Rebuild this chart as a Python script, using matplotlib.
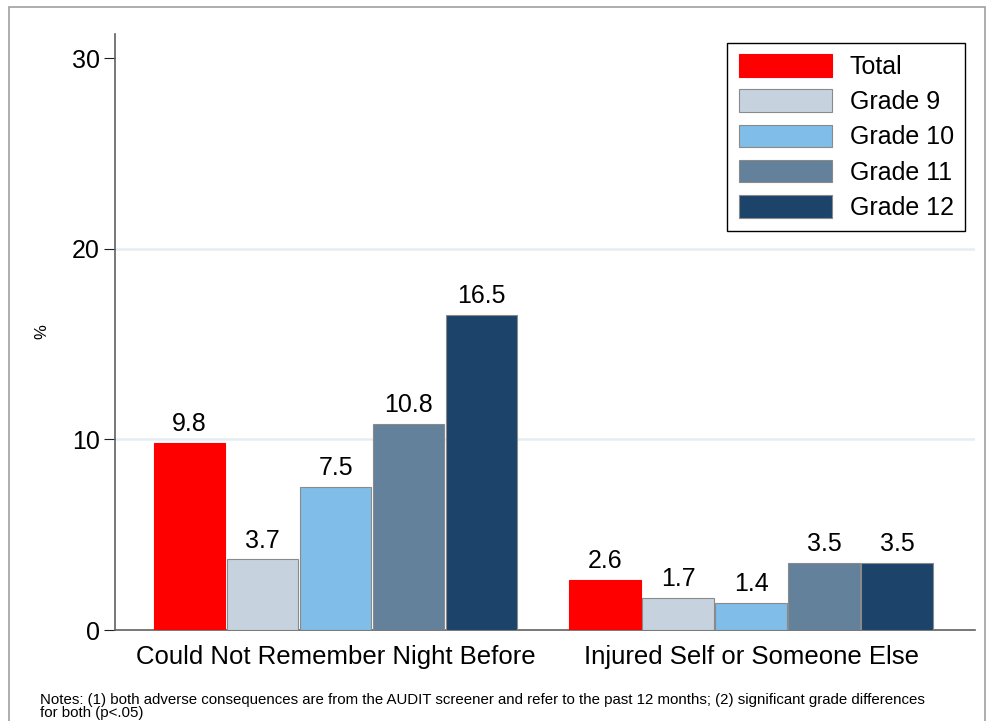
import numpy as np
import matplotlib.pyplot as plt
from matplotlib.patches import Rectangle

plt.rcParams['font.family'] = ['Liberation Sans', 'DejaVu Sans']

# Data
categories = ["Could Not Remember Night Before", "Injured Self or Someone Else"]
series = ["Total", "Grade 9", "Grade 10", "Grade 11", "Grade 12"]
total = [9.8, 2.6]
grade9 = [3.7, 1.7]
grade10 = [7.5, 1.4]
grade11 = [10.8, 3.5]
grade12 = [16.5, 3.5]
values = [total, grade9, grade10, grade11, grade12]
colors = ["#ff0000", "#c6d3df", "#80bde8", "#63819a", "#1c436a"]
yticks = [0, 10, 20, 30]
note = ("Notes: (1) both adverse consequences are from the AUDIT screener and refer to the past 12 months; "
        "(2) significant grade differences\nfor both (p<.05)")

fig = plt.figure(figsize=(9.86, 7.21), dpi=100)
ax = fig.add_axes([0.1166, 0.1262, 0.8723, 0.8266])

# outer frame
fig.patches.append(Rectangle((9 / 986, -0.05), 976 / 986, 1.05 - 7 / 721,
                             transform=fig.transFigure, fill=False,
                             edgecolor="#a0a0a0", linewidth=1.2))

x = np.arange(len(categories))
w = 0.1757
for i, (name, vals, c) in enumerate(zip(series, values, colors)):
    pos = x + (i - 2) * w
    bars = ax.bar(pos, vals, width=w * 0.98, color=c, label=name,
                  edgecolor="#8a8a8a" if i > 0 else c, linewidth=0.8, zorder=3)
    for b, v in zip(bars, vals):
        ax.annotate(f"{v:.1f}", (b.get_x() + b.get_width() / 2, v),
                    xytext=(0, 5), textcoords="offset points",
                    ha="center", va="bottom", fontsize=18)

ax.set_xlim(-0.531, 1.539)
ax.set_ylim(0, 31.26)
ax.set_yticks(yticks)
ax.set_xticks(x)
ax.set_xticklabels(categories, fontsize=18.5)
ax.tick_params(axis="x", length=0, pad=11)
ax.tick_params(axis="y", labelsize=18, length=8, color="#202020", pad=3)

# light gridlines at the inner ticks only
ax.hlines(yticks[1:-1], -0.531, 1.539, color="#e6edf2", linewidth=1.8, zorder=0)

for s in ["top", "right"]:
    ax.spines[s].set_visible(False)
ax.spines["left"].set_color("#606060")
ax.spines["bottom"].set_color("#606060")
ax.spines["left"].set_linewidth(1.2)
ax.spines["bottom"].set_linewidth(1.2)

ax.set_ylabel("%", fontsize=12)
ax.yaxis.set_label_coords(-0.076, 0.5)

leg = ax.legend(loc="upper right", bbox_to_anchor=(0.9885, 0.985), fontsize=18,
                handlelength=3.75, handleheight=1.0, labelspacing=0.42,
                handletextpad=0.7, borderpad=0.45, borderaxespad=0.0,
                fancybox=False, edgecolor="black", framealpha=1)
leg.get_frame().set_linewidth(1.0)

fig.text(40 / 986, 1 - 720 / 721, note, fontsize=10.8, ha="left", va="bottom",
         linespacing=0.95)

fig.savefig("out.png", dpi=100)
